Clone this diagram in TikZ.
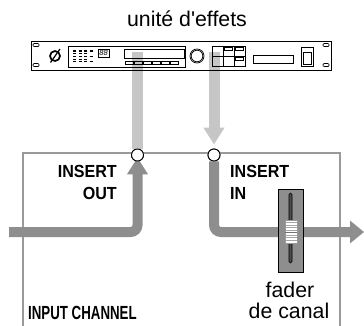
\documentclass[tikz,border=0pt]{standalone}
\usepackage{fontspec}
\newfontfamily\lsans{Liberation Sans}
\usetikzlibrary{arrows.meta}
\definecolor{lightbar}{HTML}{C6C6C6}
\definecolor{darkbar}{HTML}{8E8E8E}
\definecolor{boxline}{HTML}{9A9A9A}
\tikzset{
  rackline/.style={draw=black, line width=0.7pt},
  lightpath/.style={draw=lightbar, line width=11pt},
  darkpath/.style={draw=darkbar, line width=10pt, rounded corners=7pt},
  jack/.style={circle, draw=black, fill=white, line width=0.9pt, minimum size=12pt, inner sep=0pt},
  boldlbl/.style={font=\lsans\fontsize{17.5}{20}\selectfont\bfseries, inner sep=0pt},
  plainlbl/.style={font=\lsans\fontsize{21.3}{24}\selectfont, inner sep=0pt},
}
\begin{document}
\begin{tikzpicture}[x=1pt,y=-1pt]
\useasboundingbox (0,0) rectangle (364,325);
% coordinates
\coordinate (rackL) at (137.5,52);
\coordinate (rackR) at (214,52);
\node[jack] (outL) at (137.5,155) {};
\node[jack] (inR) at (214,155) {};
\coordinate (srcL) at (9,232);
\coordinate (dstR) at (364,232);
% channel box
\draw[boxline, line width=2pt] (23,330) -- (23,153) -- (340,153) -- (340,330);
% light send/return bars
\draw[lightpath] (rackL) -- (outL.north);
\draw[lightpath, -{Triangle[width=20pt,length=17pt]}] (rackR) -- ([yshift=4pt]inR.north);
% dark signal paths
\draw[darkpath, -{Triangle[width=20pt,length=17pt]}] (srcL) -- (137.5,232) -- ([yshift=4pt]outL.south);
\draw[darkpath, -{Triangle[width=22pt,length=14pt]}] (inR.south) -- (214,232) -- (dstR);
% redraw jacks on top
\node[jack] at (outL) {};
\node[jack] at (inR) {};
% rack unit
\draw[rackline] (31,41) rectangle (331,70);
\foreach \x in {33,323}{
  \draw[rackline, rounded corners=1pt] (\x,43.5) rectangle ++(6,3);
  \draw[rackline, rounded corners=1pt] (\x,63.5) rectangle ++(6,3);
}
\draw[black, line width=1.7pt] (55,56) circle (5);
\draw[black, line width=1.2pt] (50.5,62.5) -- (60,49);
\draw[rackline] (68,46) rectangle (185,67);
\foreach \x in {73,78.5,84}{
  \foreach \y in {51,53.7,56.4,59.1,61.8}{
    \draw[black, line width=1.1pt] (\x,\y) -- ++(3,0);
  }
}
\foreach \y in {51,56.4,61.8}{ \draw[black, line width=1.1pt] (89.5,\y) -- ++(3,0); }
\draw[rackline] (98,49) rectangle (109,57.5);
\node[inner sep=0pt, font=\lsans\fontsize{7.5}{8}\selectfont\itshape] (lcd) at (103.5,53.4) {88};
\draw[rackline] (124,49) rectangle (184,58);
\foreach \i in {0,...,5}{ \draw[rackline] (125+\i*9,61.5) rectangle ++(8,3); }
\draw[rackline] (197,56) circle (7);
\draw[rackline] (197,56) circle (5.8);
\draw[rackline] (212,46) rectangle (245,66);
\draw[rackline] (223,46) -- (223,66) (234,46) -- (234,66) (212,56) -- (245,56);
\draw[rackline] (224.5,47.5) rectangle (232.5,50);
\draw[rackline] (235.5,47.5) rectangle (243.5,50);
\draw[rackline] (235.5,57.5) rectangle (243.5,60);
\draw[rackline] (253,55) rectangle (293,63);
\draw[rackline] (301,47) rectangle (313,66);
\draw[rackline] (303,52) rectangle (311,64);
% fader
\draw[black, fill=darkbar, line width=0.9pt] (278,189) rectangle (303,272);
\draw[black, fill=black!70, line width=0.6pt, rounded corners=1.5pt] (289,193) rectangle (292,263);
\draw[black!40, fill=white, line width=0.5pt] (285,220) rectangle (297,243);
\foreach \y in {222.5,225,227.5,230,235,237.5,240}{ \draw[black!35, line width=0.5pt] (285.5,\y) -- (296.5,\y); }
\draw[black!55, line width=0.8pt] (285,232) -- (297,232);
% labels
\node[plainlbl, anchor=base] (title) at (187,26.5) {unité d'effets};
\node[boldlbl, anchor=base east, xscale=0.92] (ins1) at (117,177.5) {INSERT};
\node[boldlbl, anchor=base east, xscale=0.92] (out1) at (117,199) {OUT};
\node[boldlbl, anchor=base west, xscale=0.92] (ins2) at (230,177.5) {INSERT};
\node[boldlbl, anchor=base west, xscale=0.92] (in2) at (230,199) {IN};
\node[plainlbl, anchor=base] (fad1) at (290,297) {fader};
\node[plainlbl, anchor=base] (fad2) at (289,318.5) {de canal};
\node[boldlbl, anchor=base west, font=\lsans\fontsize{19}{22}\selectfont\bfseries, xscale=0.7] (chan) at (28,319) {INPUT CHANNEL};
\end{tikzpicture}
\end{document}
